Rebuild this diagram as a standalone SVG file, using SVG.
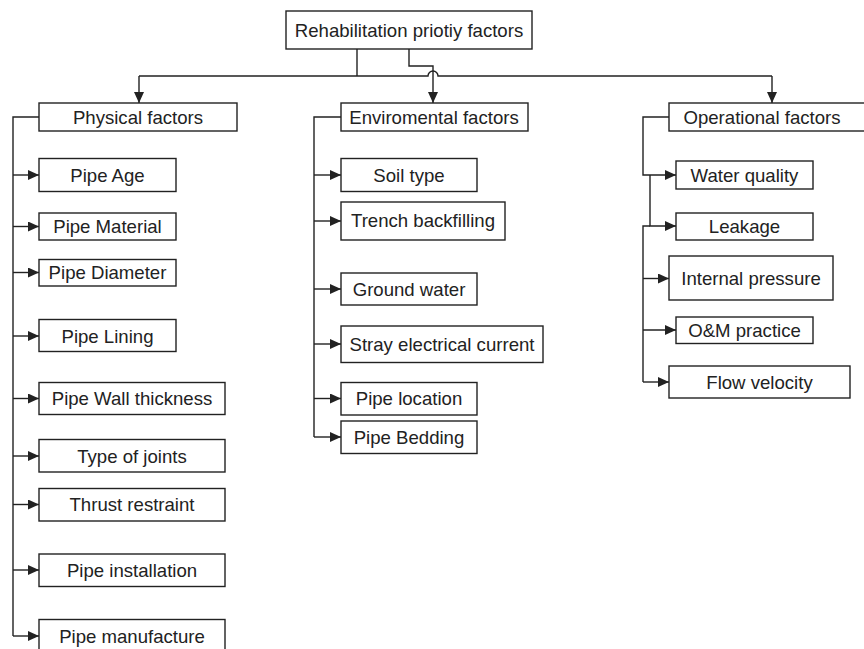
<svg xmlns="http://www.w3.org/2000/svg" width="864" height="649" viewBox="0 0 864 649">
<style>
.box{fill:#fff;stroke:#222;stroke-width:1.4}
.t{font-family:"Liberation Sans",Arial,sans-serif;font-size:18.6px;fill:#222;text-anchor:middle}
.c{fill:none;stroke:#222;stroke-width:1.4}
</style>
<defs>
<marker id="ah" viewBox="0 0 11 10" refX="11" refY="5" markerWidth="11" markerHeight="10" markerUnits="userSpaceOnUse" orient="auto">
<path d="M0,0 L11,5 L0,10 Z" fill="#222"/>
</marker>
</defs>
<rect width="864" height="649" fill="#fff"/>
<g id="connectors">
<path class="c" d="M357,49 V76"/>
<path class="c" d="M139,76 H428 A5,5 0 0 1 438,76 H772"/>
<path class="c" d="M139,76 V103" marker-end="url(#ah)"/>
<path class="c" d="M772,76 V103" marker-end="url(#ah)"/>
<path class="c" d="M409,49 V66 H433 V103" marker-end="url(#ah)"/>
<path class="c" d="M39,117 H13 V636"/>
<path class="c" d="M13,175 H39" marker-end="url(#ah)"/>
<path class="c" d="M13,226.5 H39" marker-end="url(#ah)"/>
<path class="c" d="M13,272.5 H39" marker-end="url(#ah)"/>
<path class="c" d="M13,336 H39" marker-end="url(#ah)"/>
<path class="c" d="M13,398.5 H39" marker-end="url(#ah)"/>
<path class="c" d="M13,456 H39" marker-end="url(#ah)"/>
<path class="c" d="M13,504.5 H39" marker-end="url(#ah)"/>
<path class="c" d="M13,570 H39" marker-end="url(#ah)"/>
<path class="c" d="M13,636 H39" marker-end="url(#ah)"/>
<path class="c" d="M341,117 H314 V437"/>
<path class="c" d="M314,175 H341" marker-end="url(#ah)"/>
<path class="c" d="M314,221 H341" marker-end="url(#ah)"/>
<path class="c" d="M314,289 H341" marker-end="url(#ah)"/>
<path class="c" d="M314,344 H341" marker-end="url(#ah)"/>
<path class="c" d="M314,398.5 H341" marker-end="url(#ah)"/>
<path class="c" d="M314,437 H341" marker-end="url(#ah)"/>
<path class="c" d="M669,117 H643 V175 H676" marker-end="url(#ah)"/>
<path class="c" d="M650,175 V226 H676" marker-end="url(#ah)"/>
<path class="c" d="M650,226 H643 V382"/>
<path class="c" d="M643,278.5 H669" marker-end="url(#ah)"/>
<path class="c" d="M643,330 H676" marker-end="url(#ah)"/>
<path class="c" d="M643,382 H669" marker-end="url(#ah)"/>
</g>
<g id="root"><rect class="box" x="286" y="11" width="246" height="38"/><text class="t" x="409" y="36.5">Rehabilitation priotiy factors</text></g>
<g id="physical"><rect class="box" x="39" y="103" width="198" height="28"/><text class="t" x="138" y="123.5">Physical factors</text></g>
<g id="enviromental"><rect class="box" x="341" y="103" width="187" height="28"/><text class="t" x="434" y="123.5">Enviromental factors</text></g>
<g id="operational"><rect class="box" x="669" y="103" width="210" height="28"/><text class="t" x="762" y="123.5">Operational factors</text></g>
<g id="pipe-age"><rect class="box" x="39" y="158.5" width="137" height="33"/><text class="t" x="107.5" y="181.5">Pipe Age</text></g>
<g id="pipe-material"><rect class="box" x="39" y="213" width="137" height="27"/><text class="t" x="107.5" y="233">Pipe Material</text></g>
<g id="pipe-diameter"><rect class="box" x="39" y="259.5" width="137" height="26.5"/><text class="t" x="107.5" y="279">Pipe Diameter</text></g>
<g id="pipe-lining"><rect class="box" x="39" y="319.5" width="137" height="32"/><text class="t" x="107.5" y="342.5">Pipe Lining</text></g>
<g id="pipe-wall"><rect class="box" x="39" y="382.5" width="186" height="32"/><text class="t" x="132" y="405">Pipe Wall thickness</text></g>
<g id="type-joints"><rect class="box" x="39" y="439.5" width="186" height="32.5"/><text class="t" x="132" y="462.5">Type of joints</text></g>
<g id="thrust"><rect class="box" x="39" y="488.5" width="186" height="32.5"/><text class="t" x="132" y="511">Thrust restraint</text></g>
<g id="installation"><rect class="box" x="39" y="554" width="186" height="32.5"/><text class="t" x="132" y="576.5">Pipe installation</text></g>
<g id="manufacture"><rect class="box" x="39" y="619.5" width="186" height="40"/><text class="t" x="132" y="642.5">Pipe manufacture</text></g>
<g id="soil"><rect class="box" x="341" y="158.5" width="136" height="33"/><text class="t" x="409" y="181.5">Soil type</text></g>
<g id="trench"><rect class="box" x="341" y="202" width="164" height="38"/><text class="t" x="423" y="226.5">Trench backfilling</text></g>
<g id="ground"><rect class="box" x="341" y="273" width="136" height="32"/><text class="t" x="409" y="295.5">Ground water</text></g>
<g id="stray"><rect class="box" x="341" y="326" width="202" height="36.5"/><text class="t" x="442" y="350.5">Stray electrical current</text></g>
<g id="location"><rect class="box" x="341" y="382.5" width="136" height="32.5"/><text class="t" x="409" y="405">Pipe location</text></g>
<g id="bedding"><rect class="box" x="341" y="421" width="136" height="32.5"/><text class="t" x="409" y="443.5">Pipe Bedding</text></g>
<g id="water-quality"><rect class="box" x="676" y="161" width="137" height="28"/><text class="t" x="744.5" y="181.5">Water quality</text></g>
<g id="leakage"><rect class="box" x="676" y="213" width="137" height="27"/><text class="t" x="744.5" y="233">Leakage</text></g>
<g id="internal"><rect class="box" x="669" y="256" width="164" height="44"/><text class="t" x="751" y="285">Internal pressure</text></g>
<g id="om"><rect class="box" x="676" y="317" width="137" height="26.5"/><text class="t" x="744.5" y="336.5">O&amp;M practice</text></g>
<g id="flow"><rect class="box" x="669" y="366" width="181" height="32"/><text class="t" x="759.5" y="388.5">Flow velocity</text></g>
</svg>
